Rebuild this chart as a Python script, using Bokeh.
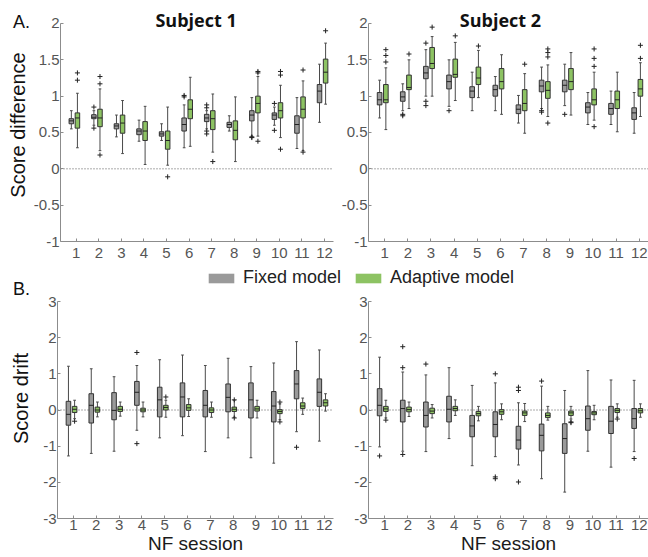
import math
from bokeh.plotting import figure
from bokeh.models import Range1d, FixedTicker, Span, Label, Legend, LegendItem, ColumnDataSource
from bokeh.layouts import column, row
from bokeh.embed import file_html
from bokeh.resources import INLINE

sessions = list(range(1, 13))
subjects = ["Subject 1", "Subject 2"]
model_names = ["Fixed model", "Adaptive model"]
diff_ticks = [-1.0, -0.5, 0.0, 0.5, 1.0, 1.5, 2.0]
diff_tick_labels = ["-1", "-0.5", "0", "0.5", "1", "1.5", "2"]
drift_ticks = [-3.0, -2.0, -1.0, 0.0, 1.0, 2.0, 3.0]
drift_tick_labels = ["-3", "-2", "-1", "0", "1", "2", "3"]

# per session: [lower whisker, Q1, median, Q3, upper whisker]
s1_diff_fixed = [
    [0.55, 0.62, 0.66, 0.69, 0.80], [0.60, 0.69, 0.71, 0.745, 0.80], [0.44, 0.55, 0.59, 0.62, 0.74],
    [0.38, 0.47, 0.52, 0.55, 0.67], [0.39, 0.45, 0.48, 0.51, 0.62], [0.29, 0.52, 0.61, 0.70, 0.88],
    [0.55, 0.65, 0.70, 0.75, 0.80], [0.52, 0.57, 0.61, 0.64, 0.73], [0.45, 0.66, 0.74, 0.80, 0.98],
    [0.60, 0.68, 0.74, 0.77, 0.85], [0.28, 0.49, 0.61, 0.73, 0.98], [0.64, 0.91, 1.07, 1.16, 1.44]]
s1_diff_adapt = [
    [0.29, 0.56, 0.70, 0.77, 1.04], [0.25, 0.58, 0.70, 0.82, 1.10], [0.21, 0.49, 0.63, 0.74, 0.94],
    [0.06, 0.39, 0.52, 0.65, 0.86], [0.05, 0.27, 0.39, 0.52, 0.85], [0.31, 0.69, 0.82, 0.95, 1.26],
    [0.23, 0.54, 0.69, 0.80, 1.03], [0.10, 0.40, 0.53, 0.66, 0.99], [0.45, 0.77, 0.90, 1.00, 1.27],
    [0.43, 0.70, 0.80, 0.91, 1.15], [0.25, 0.70, 0.82, 0.99, 1.21], [0.89, 1.18, 1.33, 1.51, 1.73]]
s2_diff_fixed = [
    [0.70, 0.88, 0.95, 1.05, 1.22], [0.80, 0.93, 0.99, 1.06, 1.17], [1.00, 1.24, 1.32, 1.41, 1.64],
    [0.86, 1.10, 1.20, 1.29, 1.50], [0.80, 0.98, 1.07, 1.13, 1.33], [0.80, 1.00, 1.09, 1.15, 1.27],
    [0.63, 0.76, 0.82, 0.88, 1.01], [0.83, 1.06, 1.14, 1.22, 1.40], [0.87, 1.06, 1.15, 1.22, 1.44],
    [0.61, 0.77, 0.85, 0.91, 1.05], [0.61, 0.75, 0.83, 0.90, 1.07], [0.49, 0.68, 0.77, 0.84, 1.05]]
s2_diff_adapt = [
    [0.54, 0.91, 0.95, 1.16, 1.39], [0.83, 1.09, 1.12, 1.29, 1.50], [1.00, 1.38, 1.45, 1.67, 1.82],
    [0.94, 1.26, 1.30, 1.51, 1.74], [0.98, 1.16, 1.25, 1.40, 1.63], [0.75, 1.10, 1.20, 1.38, 1.57],
    [0.49, 0.80, 0.90, 1.09, 1.31], [0.72, 0.97, 1.08, 1.20, 1.43], [0.74, 1.09, 1.20, 1.38, 1.60],
    [0.67, 0.88, 0.95, 1.10, 1.33], [0.51, 0.83, 0.95, 1.07, 1.33], [0.72, 1.00, 1.10, 1.23, 1.46]]
s1_drift_fixed = [
    [-1.27, -0.42, -0.12, 0.24, 1.21], [-1.20, -0.36, 0.13, 0.45, 1.14], [-1.14, -0.27, -0.01, 0.48, 0.92],
    [-0.56, 0.13, 0.49, 0.79, 1.23], [-0.77, -0.19, 0.28, 0.63, 1.39], [-0.71, -0.19, 0.36, 0.75, 1.52],
    [-1.15, -0.19, 0.13, 0.54, 1.23], [-0.77, -0.05, 0.35, 0.72, 1.43], [-1.32, -0.22, 0.28, 0.75, 1.20],
    [-1.47, -0.33, 0.11, 0.51, 1.30], [-0.60, 0.31, 0.72, 1.09, 1.89], [-0.86, 0.10, 0.49, 0.86, 1.66]]
s1_drift_adapt = [
    [-0.24, -0.07, 0.02, 0.10, 0.27], [-0.19, -0.06, 0.00, 0.08, 0.22], [-0.17, -0.04, 0.02, 0.10, 0.22],
    [-0.19, -0.05, 0.00, 0.05, 0.22], [-0.20, 0.00, 0.07, 0.13, 0.27], [-0.18, -0.01, 0.06, 0.15, 0.31],
    [-0.20, -0.07, 0.00, 0.06, 0.22], [-0.20, -0.04, 0.02, 0.08, 0.27], [-0.22, -0.03, 0.03, 0.10, 0.27],
    [-0.27, -0.10, -0.04, 0.01, 0.17], [-0.12, 0.04, 0.11, 0.20, 0.33], [-0.03, 0.11, 0.20, 0.28, 0.45]]
s2_drift_fixed = [
    [-1.02, -0.16, 0.13, 0.59, 1.46], [-1.14, -0.33, 0.04, 0.27, 1.05], [-1.15, -0.47, -0.15, 0.22, 0.97],
    [-0.79, -0.33, 0.02, 0.38, 1.17], [-1.54, -0.74, -0.44, -0.15, 0.68], [-1.29, -0.74, -0.40, -0.05, 0.75],
    [-1.52, -1.08, -0.83, -0.45, 0.20], [-1.90, -1.13, -0.70, -0.39, 0.66], [-2.27, -1.20, -0.79, -0.38, 0.54],
    [-1.14, -0.56, -0.24, 0.11, 1.09], [-1.58, -0.65, -0.31, 0.10, 0.83], [-1.15, -0.51, -0.24, 0.04, 0.82]]
s2_drift_adapt = [
    [-0.22, -0.04, 0.03, 0.10, 0.27], [-0.18, -0.05, 0.01, 0.08, 0.22], [-0.22, -0.10, -0.03, 0.05, 0.15],
    [-0.15, -0.02, 0.04, 0.10, 0.28], [-0.30, -0.16, -0.10, -0.04, 0.10], [-0.27, -0.12, -0.05, 0.01, 0.17],
    [-0.32, -0.15, -0.08, -0.03, 0.18], [-0.28, -0.21, -0.15, -0.08, 0.10], [-0.25, -0.15, -0.08, -0.03, 0.10],
    [-0.27, -0.13, -0.08, -0.04, 0.13], [-0.20, -0.07, -0.01, 0.04, 0.17], [-0.20, -0.08, -0.02, 0.04, 0.17]]

# outliers: (session, value)
s1_diff_fixed_out = [(2, 0.85), (2, 0.56), (6, 1.01), (6, 0.99), (7, 0.88), (7, 0.84), (7, 0.52), (7, 0.48),
                     (9, 0.44), (9, 0.43), (10, 0.90), (10, 0.53)]
s1_diff_adapt_out = [(1, 1.32), (1, 1.22), (2, 1.27), (2, 1.17), (2, 0.19), (5, -0.11), (7, 0.10),
                     (9, 1.34), (9, 1.32), (9, 0.38), (10, 1.34), (10, 1.29), (10, 0.27), (11, 1.36),
                     (11, 0.23), (12, 1.90)]
s2_diff_fixed_out = [(2, 0.75), (2, 0.73), (3, 1.73), (3, 0.93), (3, 0.87), (4, 0.80), (8, 0.80), (8, 0.78),
                     (9, 0.75)]
s2_diff_adapt_out = [(1, 1.64), (1, 1.56), (1, 1.47), (2, 1.58), (3, 1.95), (4, 1.83), (5, 1.69), (7, 1.44),
                     (8, 1.65), (8, 1.60), (8, 1.54), (8, 0.63), (10, 1.65), (10, 1.52), (10, 1.41),
                     (10, 0.58), (12, 1.70), (12, 1.52)]
s1_drift_fixed_out = [(4, 1.59), (4, -0.93), (11, -1.03)]
s1_drift_adapt_out = [(1, -0.31), (5, 0.36), (8, 0.28), (8, -0.22), (10, 0.22), (10, -0.33)]
s2_drift_fixed_out = [(1, -1.27), (2, 1.75), (2, 1.17), (2, -1.23), (3, 1.27), (6, 1.00), (6, -1.85),
                      (6, -1.90), (7, 0.63), (7, 0.54), (7, -1.99), (8, 0.80), (12, -1.34)]
s2_drift_adapt_out = [(1, -0.28), (9, -0.35), (9, -0.33), (11, -0.25)]

FONT = "Liberation Sans"
GRAY = "#9a9a9a"
GREEN = "#8dc363"
AXIS = "#8c8c8c"
OFFSETS = [-0.22, 0.05]
BOXW = 0.2
CAPW = 0.12


def draw_boxes(p, stats, outliers, off, color):
    xs = [s + off for s in sessions]
    src = ColumnDataSource(dict(
        x=xs,
        lo=[r[0] for r in stats], q1=[r[1] for r in stats], med=[r[2] for r in stats],
        q3=[r[3] for r in stats], hi=[r[4] for r in stats],
        mx0=[x - BOXW / 2 for x in xs], mx1=[x + BOXW / 2 for x in xs],
        cx0=[x - CAPW / 2 for x in xs], cx1=[x + CAPW / 2 for x in xs]))
    p.segment(x0="x", y0="lo", x1="x", y1="q1", source=src, line_color="#4a4a4a", line_width=1)
    p.segment(x0="x", y0="q3", x1="x", y1="hi", source=src, line_color="#4a4a4a", line_width=1)
    p.segment(x0="cx0", y0="hi", x1="cx1", y1="hi", source=src, line_color="#4a4a4a", line_width=1)
    p.segment(x0="cx0", y0="lo", x1="cx1", y1="lo", source=src, line_color="#4a4a4a", line_width=1)
    p.vbar(x="x", width=BOXW, bottom="q1", top="q3", source=src, fill_color=color,
           line_color="#333333", line_width=1)
    p.segment(x0="mx0", y0="med", x1="mx1", y1="med", source=src, line_color="#222222", line_width=1)
    p.scatter(x=[o[0] + off for o in outliers], y=[o[1] for o in outliers], marker="cross", size=5,
              line_color="#222222", line_width=1)


def panel(fixed, adapt, out_f, out_a, yr, ybounds, ticks, tick_labels, width, left, right, height, top,
          bottom, xstand, xlabel=None):
    p = figure(width=width, height=height, x_range=Range1d(0.3, 12.4), y_range=Range1d(*yr),
               min_border_left=left, min_border_right=right, min_border_top=top,
               min_border_bottom=bottom, output_backend="svg", toolbar_location=None)
    p.outline_line_color = None
    p.grid.grid_line_color = None
    p.add_layout(Span(location=0, dimension="width", line_color="#555555", line_dash="1 2",
                      line_width=1, level="underlay"))
    draw_boxes(p, fixed, out_f, OFFSETS[0], GRAY)
    draw_boxes(p, adapt, out_a, OFFSETS[1], GREEN)
    p.xaxis.ticker = FixedTicker(ticks=sessions)
    p.yaxis.ticker = FixedTicker(ticks=ticks)
    p.yaxis.bounds = ybounds
    p.yaxis.major_label_overrides = {t: l for t, l in zip(ticks, tick_labels)}
    p.axis.axis_line_color = AXIS
    p.axis.major_tick_line_color = AXIS
    p.axis.minor_tick_line_color = None
    p.axis.major_tick_in = 3
    p.axis.major_tick_out = 0
    p.axis.major_label_text_font = FONT
    p.axis.major_label_text_font_size = "15px"
    p.axis.major_label_text_color = "#555555"
    p.yaxis.major_label_standoff = 1
    p.xaxis.major_label_standoff = xstand
    if xlabel:
        p.xaxis.axis_label = xlabel
        p.xaxis.axis_label_standoff = 0
        p.xaxis.axis_label_text_font = FONT
        p.xaxis.axis_label_text_font_size = "19px"
        p.xaxis.axis_label_text_font_style = "normal"
        p.xaxis.axis_label_text_color = "#1a1a1a"
    return p


def lab(p, text, x, y, xo, yo, size, font=FONT, style="normal", angle=0.0, color="#111111"):
    p.add_layout(Label(x=x, y=y, x_offset=xo, y_offset=yo, text=text, text_font=font,
                       text_font_size=size, text_font_style=style, text_align="center",
                       text_baseline="middle", angle=angle, text_color=color))


A_TOP = 2 + 23 / 72.67
a1 = panel(s1_diff_fixed, s1_diff_adapt, s1_diff_fixed_out, s1_diff_adapt_out, (-1, A_TOP), (-1, 2),
           diff_ticks, diff_tick_labels, 304, 27, 1, 265, 0, 24, 6)
a2 = panel(s2_diff_fixed, s2_diff_adapt, s2_diff_fixed_out, s2_diff_adapt_out, (-1, A_TOP), (-1, 2),
           diff_ticks, diff_tick_labels, 314, 34, 0, 265, 0, 24, 6)
b1 = panel(s1_drift_fixed, s1_drift_adapt, s1_drift_fixed_out, s1_drift_adapt_out, (-3, 3), (-3, 3),
           drift_ticks, drift_tick_labels, 304, 27, 1, 267, 11, 39, 1, xlabel="NF session")
b2 = panel(s2_drift_fixed, s2_drift_adapt, s2_drift_fixed_out, s2_drift_adapt_out, (-3, 3), (-3, 3),
           drift_ticks, drift_tick_labels, 314, 34, 0, 267, 11, 39, 1, xlabel="NF session")

lab(a1, subjects[0], 6.31, 2, 0, 3, "18px", font="Open Sans", style="bold")
lab(a2, subjects[1], 6.0, 2, 0, 3, "18px", font="Open Sans", style="bold")

# left strip holding panel letters and y-axis titles (coordinates = page pixels)
strip = figure(width=30, height=557, x_range=Range1d(0, 30), y_range=Range1d(557, 0),
               min_border_left=0, min_border_right=0, min_border_top=0, min_border_bottom=0,
               x_axis_location=None, y_axis_location=None, output_backend="svg", toolbar_location=None)
strip.outline_line_color = None
strip.grid.grid_line_color = None
lab(strip, "A.", 21, 21, 0, 0, "18px")
lab(strip, "B.", 21, 288, 0, 0, "18px")
lab(strip, "Score difference", 17.5, 124.5, 0, 0, "20px", angle=math.pi / 2)
lab(strip, "Score drift", 20, 398, 0, 0, "20px", angle=math.pi / 2)

leg = figure(width=618, height=25, x_range=Range1d(0, 1), y_range=Range1d(0, 1),
             min_border_left=0, min_border_right=0, min_border_top=0, min_border_bottom=0,
             x_axis_location=None, y_axis_location=None, output_backend="svg", toolbar_location=None)
leg.outline_line_color = None
leg.grid.grid_line_color = None
rf = leg.vbar(x=[0.5], width=0, bottom=[0], top=[0], fill_color=GRAY, line_color=None)
ra = leg.vbar(x=[0.5], width=0, bottom=[0], top=[0], fill_color=GREEN, line_color=None)
legend = Legend(items=[LegendItem(label=model_names[0], renderers=[rf]),
                       LegendItem(label=model_names[1], renderers=[ra])],
                orientation="horizontal", location=(175, 2), glyph_width=32, glyph_height=12,
                label_standoff=6, spacing=11, padding=0, margin=0, border_line_color=None,
                background_fill_alpha=0, label_text_font=FONT, label_text_font_size="18px",
                label_text_color="#222222", label_height=20)
leg.add_layout(legend)

layout = row(strip, column(row(a1, a2), leg, row(b1, b2)))
open("out.html", "w").write(file_html(layout, INLINE))
